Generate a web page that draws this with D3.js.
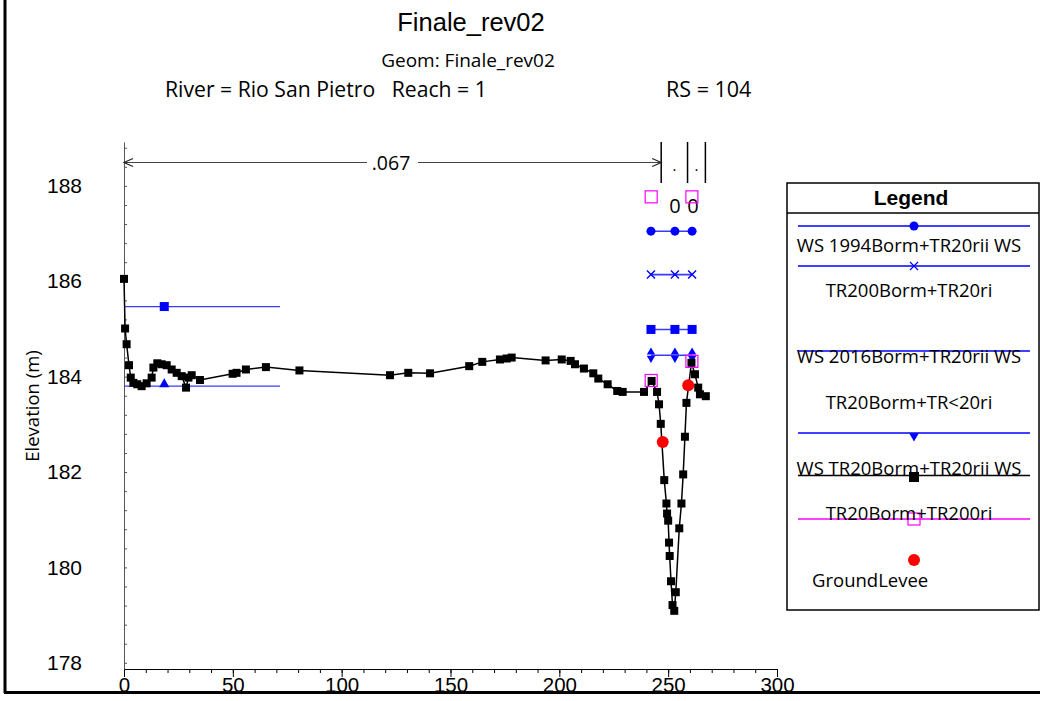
<!DOCTYPE html>
<html><head><meta charset="utf-8">
<script src="https://cdn.jsdelivr.net/npm/d3@7"></script>
<style>body{margin:0;background:#fff}svg{display:block}</style>
</head><body>
<svg id="c" width="1040" height="701"></svg>
<script>
// ---- data ----
const groundX = [0,0.5,1.2,2.3,3.1,4.3,6.1,8.1,10.4,12.7,13.5,15.3,17.3,19.6,21.9,24.2,26.5,28.5,29.6,31.1,34.9,49.9,51.7,56,65.2,80.6,122.2,130.6,140.6,158.6,164.6,172.7,175.8,178.1,193.7,201.1,205.2,207.2,211.3,215.6,217.9,222.2,226.6,229.1,238.9,242.4,244.9,245.8,246.6,248.2,249.2,249.5,250.0,250.4,250.7,251.3,252.0,252.8,253.5,255.1,256.1,256.9,257.7,258.4,260.7,262.3,263.8,264.6,267.3];
const groundY = [186.05,185.01,184.68,184.24,183.98,183.87,183.84,183.80,183.86,183.98,184.19,184.28,184.26,184.24,184.15,184.08,184.01,183.77,183.98,184.03,183.93,184.06,184.08,184.15,184.20,184.13,184.03,184.08,184.07,184.22,184.31,184.36,184.38,184.40,184.34,184.36,184.33,184.26,184.17,184.07,183.96,183.84,183.70,183.68,183.68,183.91,183.68,183.42,183.01,181.83,181.34,181.13,180.98,180.52,180.24,179.71,179.21,179.09,179.48,180.82,181.34,181.95,182.74,183.45,184.29,184.05,183.77,183.63,183.59];
const channelX = [242.1, 253.1, 261.0];
const ws1994 = 187.05;   // circles
const ws200 = 186.14;    // x marks
const ws2016 = 184.99;   // squares
const wsTR20 = 184.45;   // triangles
const leftX = [0, 71.7];
const leftSquareX = 18.5, leftSquareWS = 185.47;
const leftTriX = 18.5, leftTriWS = 183.80;
const pinkX = [242.2, 260.9];
const pinkY = [183.92, 184.32];
const pinkTopY = [187.77, 187.77];
const leveeX = [247.5, 259.2];
const leveeY = [182.63, 183.82];
const nBars = [0, 246.8, 258.9, 267.1];
const xTicks = [0,50,100,150,200,250,300];
const yTicks = [178,180,182,184,186,188];
const legendLabels = ["WS 1994Borm+TR20rii WS","TR200Borm+TR20ri","WS 2016Borm+TR20rii WS","TR20Borm+TR<20ri","WS TR20Borm+TR20rii WS","TR20Borm+TR200ri","GroundLevee"];

// ---- scales ----
const svg = d3.select("#c");
const x = d3.scaleLinear().domain([0,300]).range([124,777]);
const y = d3.scaleLinear().domain([177.87,188.92]).range([669,142]);
const blue = "#0000ff";
const SANS = "Open Sans, sans-serif";

// frame
svg.append("line").attr("x1",5).attr("x2",5).attr("y1",0).attr("y2",693).attr("stroke","#000").attr("stroke-width",3);
svg.append("line").attr("x1",4).attr("x2",1040).attr("y1",692.5).attr("y2",692.5).attr("stroke","#000").attr("stroke-width",3);

// titles
const T = (t,xx,yy,size,fam,anchor="middle",weight="normal")=>svg.append("text").attr("x",xx).attr("y",yy).attr("font-size",size).attr("font-family",fam).attr("text-anchor",anchor).attr("font-weight",weight).text(t);
T("Finale_rev02",471,31,25.5,"Liberation Sans, Arial");
T("Geom: Finale_rev02",468,67,19,SANS);
T("River = Rio San Pietro   Reach = 1",165,97,21.2,SANS,"start").style("white-space","pre");
T("RS = 104",666,97,21.5,SANS,"start");

// axes
const gx = svg.append("g").attr("transform","translate(0,669)");
gx.call(d3.axisBottom(x).tickValues(xTicks).tickSize(8).tickSizeOuter(0).tickPadding(3));
gx.append("g").call(d3.axisBottom(x).tickValues(d3.range(10,300,10)).tickSize(4).tickFormat("")).select(".domain").remove();
gx.selectAll("text").attr("font-size",20.5).attr("font-family","Liberation Sans, Arial").attr("fill","#000").attr("dy","0.72em").attr("y",8.5);
gx.selectAll("path,line").attr("stroke","#000");

const gy = svg.append("g").attr("transform","translate(124,0)");
gy.call(d3.axisLeft(y).tickValues(yTicks).tickSize(0).tickSizeOuter(0).tickPadding(42).tickFormat(d3.format("d")));
gy.append("g").call(d3.axisRight(y).tickValues(d3.range(178,189,0.4)).tickSize(3).tickFormat("")).select(".domain").remove();
gy.selectAll("text").attr("font-size",21).attr("font-family","Liberation Sans, Arial").attr("fill","#000");
gy.selectAll("path,line").attr("stroke","#555");
svg.append("text").attr("transform","translate(39,406) rotate(-90)").attr("text-anchor","middle").attr("font-size",18.5).attr("font-family",SANS).text("Elevation (m)");

// Manning's n annotation
const nTop = 142, nBot = 183, nY = 162.5;
nBars.slice(1).forEach(v=>svg.append("line").attr("x1",x(v)).attr("x2",x(v)).attr("y1",nTop).attr("y2",nBot).attr("stroke","#000").attr("stroke-width",1.5));
svg.append("line").attr("x1",x(nBars[0])).attr("x2",367).attr("y1",nY).attr("y2",nY).attr("stroke","#444").attr("stroke-width",1.2);
svg.append("line").attr("x1",418).attr("x2",x(nBars[1])).attr("y1",nY).attr("y2",nY).attr("stroke","#444").attr("stroke-width",1.2);
const ah = (xx,dir)=>svg.append("path").attr("d",`M${xx+dir*9},${nY-4}L${xx},${nY}L${xx+dir*9},${nY+4}`).attr("fill","none").attr("stroke","#222").attr("stroke-width",1.2);
ah(x(nBars[0]),1); ah(x(nBars[1]),-1);
T(".067",391,170,19.5,SANS);
T(".",(x(nBars[1])+x(nBars[2]))/2,171,15,SANS);
T(".",(x(nBars[2])+x(nBars[3]))/2,171,15,SANS);
T("0",675,213,20,SANS);
T("0",693,213,20,SANS);

// left overbank WS lines
[leftSquareWS,leftTriWS].forEach(w=>svg.append("line").attr("x1",x(leftX[0])).attr("x2",x(leftX[1])).attr("y1",y(w)).attr("y2",y(w)).attr("stroke","#3a3aff").attr("stroke-width",1.3));
svg.append("rect").attr("x",x(leftSquareX)-4.5).attr("y",y(leftSquareWS)-4.5).attr("width",9).attr("height",9).attr("fill",blue);
svg.append("path").attr("d",d3.symbol(d3.symbolTriangle,45)()).attr("transform",`translate(${x(leftTriX)},${y(leftTriWS)-2})`).attr("fill",blue);

// channel WS lines
[ws1994,ws200,ws2016,wsTR20].forEach(w=>svg.append("line").attr("x1",x(channelX[0])).attr("x2",x(channelX[2])).attr("y1",y(w)).attr("y2",y(w)).attr("stroke","#3a3aff").attr("stroke-width",1.6));
channelX.forEach(cx=>{
  svg.append("circle").attr("cx",x(cx)).attr("cy",y(ws1994)).attr("r",4.5).attr("fill",blue);
  svg.append("path").attr("d",`M${x(cx)-4},${y(ws200)-4}L${x(cx)+4},${y(ws200)+4}M${x(cx)-4},${y(ws200)+4}L${x(cx)+4},${y(ws200)-4}`).attr("stroke",blue).attr("stroke-width",1.4);
  svg.append("rect").attr("x",x(cx)-4.5).attr("y",y(ws2016)-4.5).attr("width",9).attr("height",9).attr("fill",blue);
  svg.append("path").attr("d",d3.symbol(d3.symbolTriangle,30)()).attr("transform",`translate(${x(cx)},${y(wsTR20)-3})`).attr("fill",blue);
  svg.append("path").attr("d",d3.symbol(d3.symbolTriangle,30)()).attr("transform",`translate(${x(cx)},${y(wsTR20)+3}) rotate(180)`).attr("fill",blue);
});

// ground
const pts = groundX.map((v,i)=>[v,groundY[i]]);
svg.append("path").datum(pts).attr("d",d3.line().x(d=>x(d[0])).y(d=>y(d[1]))).attr("fill","none").attr("stroke","#000").attr("stroke-width",1.5);
svg.append("g").selectAll("rect").data(pts).join("rect").attr("x",d=>x(d[0])-4).attr("y",d=>y(d[1])-4).attr("width",8).attr("height",8).attr("fill","#000");

// pink squares
pinkX.forEach((px,i)=>{
  [pinkY[i],pinkTopY[i]].forEach(py=>svg.append("rect").attr("x",x(px)-6).attr("y",y(py)-6).attr("width",12).attr("height",12).attr("fill","none").attr("stroke","#ff00ff").attr("stroke-width",1.2));
});
// levee
leveeX.forEach((lx,i)=>svg.append("circle").attr("cx",x(lx)).attr("cy",y(leveeY[i])).attr("r",6).attr("fill","#ff0000"));

// legend
const L = svg.append("g");
L.append("rect").attr("x",787).attr("y",183).attr("width",252).attr("height",427).attr("fill","none").attr("stroke","#000").attr("stroke-width",1.5);
L.append("line").attr("x1",787).attr("x2",1039).attr("y1",213).attr("y2",213).attr("stroke","#000").attr("stroke-width",1.5);
L.append("text").attr("x",911).attr("y",205).attr("text-anchor","middle").attr("font-size",21).attr("font-weight","bold").attr("font-family","Liberation Sans, Arial").text("Legend");
const lx1=798,lx2=1030,mx=914;
const lline=(yy,col)=>L.append("line").attr("x1",lx1).attr("x2",lx2).attr("y1",yy).attr("y2",yy).attr("stroke",col).attr("stroke-width",1.3);
lline(226,blue); L.append("circle").attr("cx",mx).attr("cy",226).attr("r",4.5).attr("fill",blue);
lline(266,blue); L.append("path").attr("d",`M${mx-4},${262}L${mx+4},${270}M${mx-4},${270}L${mx+4},${262}`).attr("stroke",blue).attr("stroke-width",1.2);
lline(351,blue);
lline(433,blue); L.append("path").attr("d",d3.symbol(d3.symbolTriangle,40)()).attr("transform",`translate(${mx},${436}) rotate(180)`).attr("fill",blue);
lline(475.5,"#000"); L.append("rect").attr("x",mx-5).attr("y",472).attr("width",10).attr("height",10).attr("fill","#000");
lline(519,"#ff00ff"); L.append("rect").attr("x",mx-6).attr("y",513).attr("width",12).attr("height",12).attr("fill","none").attr("stroke","#ff00ff").attr("stroke-width",1.2);
L.append("circle").attr("cx",mx).attr("cy",560).attr("r",6).attr("fill","#ff0000");
const ly = [252,297,363,409,475,520,587];
legendLabels.forEach((t,i)=>{
  const tx = i===6 ? 812 : 909;
  L.append("text").attr("x",tx).attr("y",ly[i]).attr("text-anchor",i===6?"start":"middle").attr("font-size",18.5).attr("font-family",SANS).text(t);
});
</script>
</body></html>
